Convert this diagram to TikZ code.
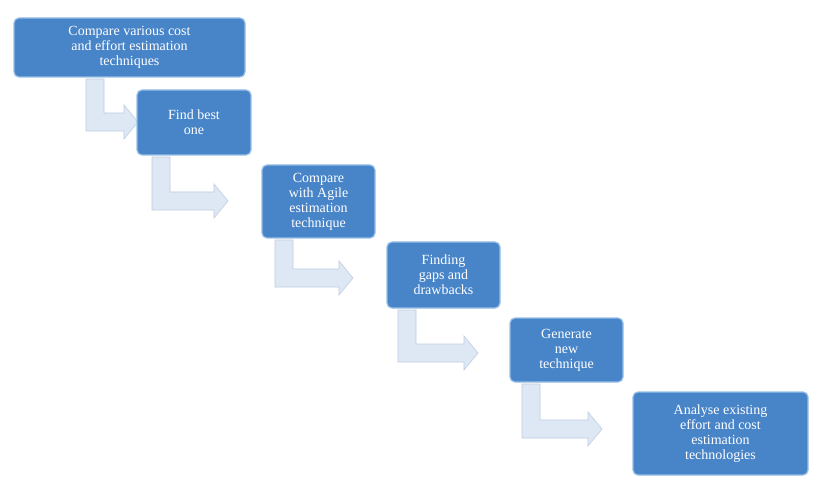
\documentclass[tikz,border=0pt]{standalone}
\usepackage{fontspec}
\setmainfont{Liberation Serif}
\usetikzlibrary{positioning}
\definecolor{stepblue}{RGB}{72,132,200}
\definecolor{stepedge}{RGB}{150,190,230}
\definecolor{arrowfill}{RGB}{222,232,244}
\definecolor{arrowedge}{RGB}{190,205,225}
% bent arrow: left x, top y, bottom y, tip x
\newcommand{\bentarrow}[4]{%
  \filldraw[arrowstyle] (#1,#2) -- (#1+18,#2) -- (#1+18,#3-18) -- (#4-14,#3-18)
    -- (#4-14,#3-26) -- (#4,#3-9) -- (#4-14,#3+8) -- (#4-14,#3) -- (#1,#3) -- cycle;}
\begin{document}
\begin{tikzpicture}[x=1pt,y=-1pt,
    stepbox/.style={draw=stepedge,line width=1.2pt,fill=stepblue,rounded corners=5pt,
      text=white,align=center,font=\fontsize{14}{15}\selectfont,inner sep=2pt},
    arrowstyle/.style={fill=arrowfill,draw=arrowedge,line width=0.6pt}]
    \useasboundingbox (0,0) rectangle (824,478);

    % Draw the arrows first
    \bentarrow{86}{79}{131}{138}
    \bentarrow{152}{157}{210}{228}
    \bentarrow{275}{240}{287}{353}
    \bentarrow{398}{310}{362}{478}
    \bentarrow{522}{384}{438}{602}

    % Draw the steps
    \node[stepbox,minimum width=231pt,minimum height=59pt] (compare) at (129.5,47.5)
      {Compare various cost\\and effort estimation\\techniques};
    \node[stepbox,minimum width=114pt,minimum height=65pt] (best) at (194,122.5)
      {Find best\\one};
    \node[stepbox,minimum width=113pt,minimum height=73pt] (agile) at (318.5,201.5)
      {Compare\\with Agile\\estimation\\technique};
    \node[stepbox,minimum width=113pt,minimum height=66pt] (gaps) at (443.5,275)
      {Finding\\gaps and\\drawbacks};
    \node[stepbox,minimum width=113pt,minimum height=64pt] (newtech) at (566.5,350)
      {Generate\\new\\technique};
    \node[stepbox,minimum width=175pt,minimum height=83pt] (analyse) at (720.5,433.5)
      {Analyse existing\\effort and cost\\estimation\\technologies};
\end{tikzpicture}
\end{document}
